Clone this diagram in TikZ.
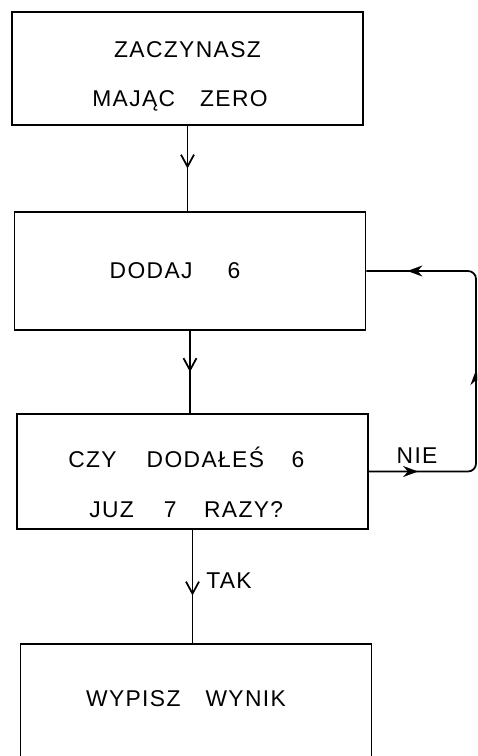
\documentclass[tikz,border=0pt]{standalone}
\usepackage{fontspec}
\setmainfont[LetterSpace=6]{Liberation Sans}
\usetikzlibrary{positioning,arrows.meta,decorations.markings}

\begin{document}
\begin{tikzpicture}[
    x=0.02cm,y=0.02cm,
    every node/.style={font=\fontsize{13}{28}\selectfont,align=center},
    box/.style={draw,line width=1pt,inner sep=0pt,minimum width=7.02cm},
    flow/.style={line width=1pt,postaction={decorate},
      decoration={markings,mark=at position #1 with {\arrow{Straight Barb[length=2.4mm,width=2.6mm]}}}},
    flow/.default=0.5,
    back/.style={line width=1pt,rounded corners=0.16cm,postaction={decorate},
      decoration={markings,
        mark=at position 0.12 with {\arrow{Stealth[length=3mm,width=2.2mm]}},
        mark=at position 0.5 with {\arrow{Stealth[length=3mm,width=2.2mm]}},
        mark=at position 0.9 with {\arrow{Stealth[length=3mm,width=2.2mm]}}}}
  ]
  \useasboundingbox (0,0) rectangle (477,-756);
  \clip (0,0) rectangle (477,-756);
  \node[box,minimum height=2.26cm] (start) at (187.5,-68.5) {\rule{0pt}{18.4pt}ZACZYNASZ\\MAJĄC\hspace{0.5cm}ZERO\hspace*{0.3cm}};
  \node[box,minimum height=2.36cm] (add)   at (190,-271)    {DODAJ\hspace{0.7cm}6\hspace*{0.6cm}};
  \node[box,minimum height=2.3cm]  (check) at (192.5,-471.5) {\rule{0pt}{24pt}CZY\hspace{0.6cm}DODAŁEŚ\hspace{0.55cm}6\hspace*{0.25cm}\\JUZ\hspace{0.6cm}7\hspace{0.55cm}RAZY?\hspace*{0.25cm}};
  \node[box,anchor=north,inner ysep=0.9cm,text height=0.35cm,text depth=2cm] (out) at (196,-643) {WYPISZ\hspace{0.5cm}WYNIK\hspace*{0.4cm}};
  \coordinate (nieend) at (476,-471.5);
  \draw[flow] (start.south) -- (start.south |- add.north);
  \draw[flow] (add.south) -- (add.south |- check.north);
  \draw[flow=0.58] (check.south) -- node[right=4pt,pos=0.45] {TAK} (check.south |- out.north);
  \draw[back] (check.east) -- node[above=1pt,pos=0.45] {NIE} (nieend) |- (add.east);
\end{tikzpicture}
\end{document}
